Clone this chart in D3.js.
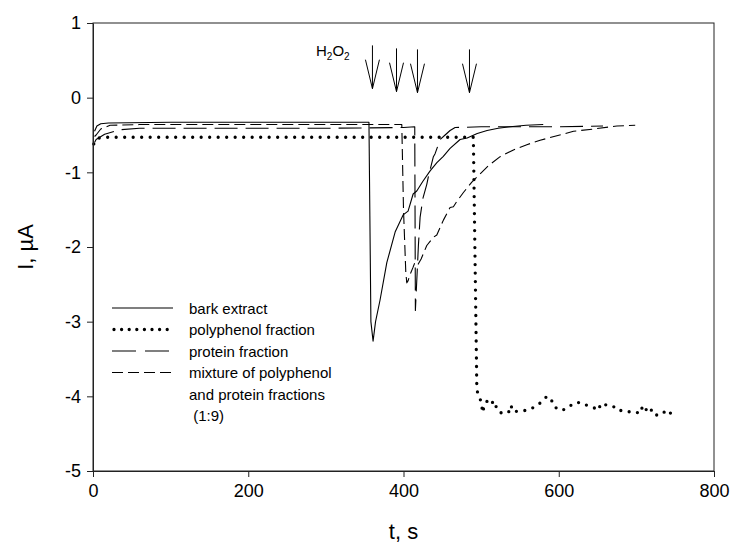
<!DOCTYPE html>
<html><head><meta charset="utf-8">
<script src="https://cdn.jsdelivr.net/npm/d3@7"></script>
<style>body{margin:0;background:#fff}svg{display:block}text{font-family:Arial,"Liberation Sans",sans-serif;fill:#000}</style>
</head><body><svg id="c" width="735" height="545"></svg>
<script>
// ---- data ----
const tTicks = [0, 200, 400, 600, 800];
const iTicks = [1, 0, -1, -2, -3, -4, -5];
const seriesNames = ["bark extract", "polyphenol fraction", "protein fraction", "mixture of polyphenol"];
const legendExtra = ["and protein fractions", " (1:9)"];
const h2o2Times = [360, 391, 418, 485];

const bark = [[2,-0.45],[5,-0.38],[10,-0.35],[20,-0.34],[100,-0.33],[200,-0.33],[300,-0.33],[355.5,-0.33],[358,-3.0],[360.8,-3.26],[364,-3.0],[369.8,-2.71],[378.5,-2.21],[389.2,-1.80],[399.5,-1.57],[405.9,-1.52],[412.4,-1.29],[417.1,-1.25],[425,-1.12],[434.3,-0.98],[443,-0.87],[451,-0.79],[460,-0.68],[472.9,-0.56],[482,-0.54],[495,-0.48],[507.7,-0.44],[522,-0.41],[537.4,-0.39],[558,-0.37],[580,-0.36]];

const polyphenol = [[1,-0.62],[4,-0.56],[8,-0.54],[15,-0.53],[100,-0.53],[200,-0.53],[300,-0.53],[400,-0.53],[490,-0.53],[494.5,-3.92],[498.7,-4.03],[500.9,-4.14],[502.2,-4.22],[503.9,-4.12],[509.4,-4.04],[513.8,-4.09],[517.1,-4.06],[520.2,-4.17],[524.5,-4.22],[535.2,-4.22],[538.3,-4.12],[541.6,-4.21],[549.4,-4.19],[558.9,-4.19],[569.6,-4.14],[576.0,-4.09],[584.7,-4.00],[589.8,-4.03],[594.1,-4.14],[602.7,-4.19],[611.2,-4.16],[619.0,-4.09],[628.5,-4.08],[638.3,-4.13],[646.9,-4.16],[649.9,-4.19],[655.5,-4.09],[666.2,-4.14],[674.9,-4.14],[680.0,-4.19],[687.8,-4.21],[696.3,-4.20],[704.9,-4.23],[708.4,-4.12],[713.5,-4.19],[717.8,-4.15],[722.0,-4.25],[731.6,-4.25],[739.3,-4.18],[744.5,-4.23]];

const protein = [[2,-0.6],[4,-0.56],[15,-0.49],[35,-0.43],[60,-0.41],[200,-0.41],[300,-0.41],[400,-0.40],[414.5,-0.39],[415.3,-2.85],[419.2,-1.98],[421.4,-1.6],[425,-1.35],[430,-1.16],[432,-1.06],[438.5,-0.79],[440.7,-0.75],[447.2,-0.56],[453.6,-0.50],[460,-0.44],[466.5,-0.40],[500,-0.39],[600,-0.39],[657,-0.38]];

const mixture = [[2,-0.52],[4,-0.50],[10,-0.42],[22,-0.37],[60,-0.36],[200,-0.36],[300,-0.36],[397.8,-0.36],[400,-1.5],[403,-2.35],[404.3,-2.48],[406,-2.45],[408,-2.38],[412,-2.28],[415,-2.20],[418.8,-2.23],[422.7,-2.16],[430,-1.98],[438.5,-1.87],[442.9,-1.84],[451.4,-1.64],[460,-1.47],[464.3,-1.46],[468.7,-1.39],[477.2,-1.27],[488,-1.13],[498.7,-1.02],[509.4,-0.91],[524.5,-0.79],[541.6,-0.70],[558.9,-0.63],[576,-0.57],[597.6,-0.51],[619,-0.45],[644.7,-0.42],[674.9,-0.38],[698.5,-0.37]];

// ---- layout ----
const W = 735, H = 545;
const m = {left: 93, right: 21, top: 23, bottom: 74};
const svg = d3.select("#c");
const x = d3.scaleLinear().domain([0, 800]).range([m.left, W - m.right]);
const y = d3.scaleLinear().domain([-5, 1]).range([H - m.bottom, m.top]);

const styles = [
  {data: bark, dash: null, width: 1.1, cap: "butt", legDash: null},
  {data: polyphenol, dash: "0 8.5", width: 3.3, cap: "round", legDash: "0 7.6"},
  {data: protein, dash: "23 8", width: 1.1, cap: "butt", legDash: "24 9"},
  {data: mixture, dash: "11 5", width: 1.1, cap: "butt", legDash: "11 5"}
];

const line = d3.line().x(d => x(d[0])).y(d => y(d[1]));
styles.forEach(s => {
  svg.append("path").attr("d", line(s.data)).attr("fill", "none")
    .attr("stroke", "#000").attr("stroke-width", s.width)
    .attr("stroke-dasharray", s.dash).attr("stroke-linecap", s.cap)
    .attr("stroke-linejoin", "round");
});

// frame
svg.append("rect").attr("x", x(0)).attr("y", y(1)).attr("width", x(800) - x(0)).attr("height", y(-5) - y(1))
  .attr("fill", "none").attr("stroke", "#222").attr("stroke-width", 1);

// axes
const gx = svg.append("g").attr("transform", `translate(0,${y(-5)})`)
  .call(d3.axisBottom(x).tickValues(tTicks).tickSize(6).tickSizeOuter(0).tickPadding(7).tickFormat(d => String(d)));
const gy = svg.append("g").attr("transform", `translate(${x(0)},0)`)
  .call(d3.axisLeft(y).tickValues(iTicks).tickSize(6).tickSizeOuter(0).tickPadding(6).tickFormat(d => String(d)));
[gx, gy].forEach(g => {
  g.select(".domain").attr("stroke", "#222");
  g.selectAll(".tick line").attr("stroke", "#222");
  g.selectAll(".tick text").attr("font-size", 18).attr("font-family", "Arial, 'Liberation Sans', sans-serif").attr("fill", "#000");
});

// axis titles
svg.append("text").attr("x", (x(0) + x(800)) / 2).attr("y", 539).attr("text-anchor", "middle")
  .attr("font-size", 22).text("t, s");
svg.append("text").attr("transform", `translate(33,${(y(1) + y(-5)) / 2}) rotate(-90)`).attr("text-anchor", "middle")
  .attr("font-size", 22).text("I, µA");

// H2O2 arrows
h2o2Times.forEach((t, i) => {
  const ax = x(t), top = y(0.70) + [0, 3, 4, 4][i], bot = y(0.08) + [-3, 0, 1, 1][i];
  svg.append("path").attr("d", `M${ax},${top}L${ax},${bot}M${ax - 7},${bot - 29}L${ax},${bot}L${ax + 7},${bot - 29}`)
    .attr("fill", "none").attr("stroke", "#000").attr("stroke-width", 1);
});
const h = svg.append("text").attr("x", 316).attr("y", 56).attr("font-size", 15);
h.append("tspan").text("H");
h.append("tspan").attr("font-size", 10).attr("dy", 4).text("2");
h.append("tspan").attr("dy", -4).text("O");
h.append("tspan").attr("font-size", 10).attr("dy", 4).text("2");

// legend
const lx0 = 112, lx1 = 173, tx = 189, ly0 = 308, ldy = 21.5;
styles.forEach((s, i) => {
  const ly = ly0 + i * ldy;
  svg.append("line").attr("x1", lx0 + (s.cap === "round" ? 2 : 0)).attr("x2", lx1).attr("y1", ly).attr("y2", ly)
    .attr("stroke", "#000").attr("stroke-width", s.width)
    .attr("stroke-dasharray", s.legDash).attr("stroke-linecap", s.cap);
  svg.append("text").attr("x", tx).attr("y", ly + 5.5).attr("font-size", 15).text(seriesNames[i]);
});
legendExtra.forEach((s, j) => {
  svg.append("text").attr("x", tx).attr("y", ly0 + (4 + j) * ldy + 5.5).attr("font-size", 15)
    .attr("xml:space", "preserve").style("white-space", "pre").text(s);
});
</script></body></html>
